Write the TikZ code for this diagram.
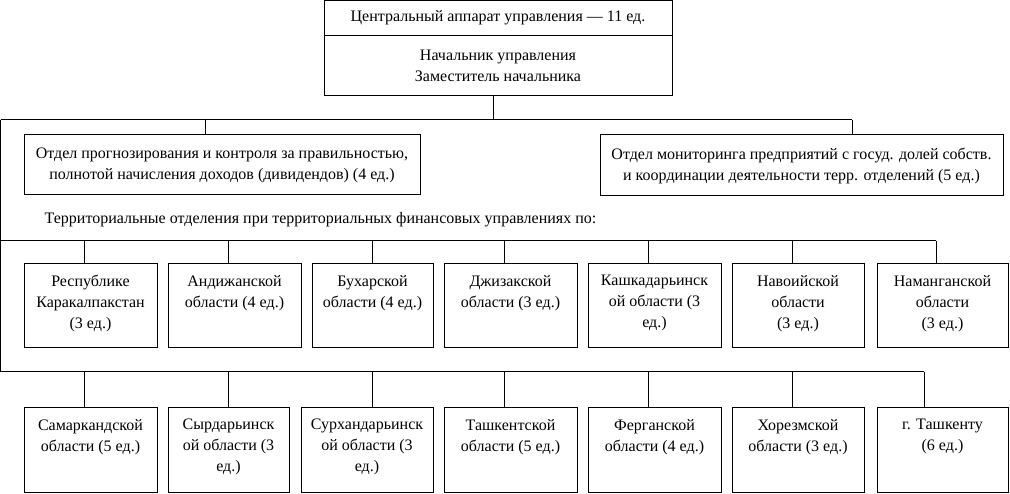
\documentclass[tikz,border=0pt]{standalone}
\usepackage{fontspec}
\setmainfont{Liberation Serif}
\usetikzlibrary{positioning}
\tikzset{
  box/.style={draw, line width=1pt, inner sep=0pt, outer sep=0pt},
  txt/.style={align=center, inner sep=0pt, font=\fontsize{16}{21}\selectfont},
  link/.style={line width=1pt},
}
\begin{document}
\begin{tikzpicture}[x=1pt,y=-1pt]
    \useasboundingbox (0,0) rectangle (1010,494);
    % central office
    \node[box, txt, minimum width=348, minimum height=35.5] (head) at (498,18.25) {Центральный аппарат управления — 11 ед.};
    \node[box, txt, minimum width=348, minimum height=60, below=0pt of head] (chief) {Начальник управления\\Заместитель начальника};
    % departments
    \node[box, txt, minimum width=396, minimum height=60] (plan) at (222,165) {Отдел прогнозирования и контроля за правильностью,\\полнотой начисления доходов (дивидендов) (4 ед.)};
    \node[box, txt, minimum width=403, minimum height=61] (monit) at (801.5,165.5) {Отдел мониторинга предприятий с госуд. долей собств.\\и координации деятельности терр. отделений (5 ед.)};
    \node[txt] (terr) at (320.5,220) {Территориальные отделения при территориальных финансовых управлениях по:};
    \coordinate (bus0) at (0.7,120);
    \coordinate (bus1) at (0.7,241);
    \coordinate (bus2) at (0.7,372);
    % first row
    \node[box, minimum width=133, minimum height=84] (r1) at (90.5,306) {};
    \node[box, minimum width=133, minimum height=84] (r2) at (234.5,306) {};
    \node[box, minimum width=121, minimum height=84] (r3) at (372.5,306) {};
    \node[box, minimum width=133, minimum height=84] (r4) at (510.5,306) {};
    \node[box, minimum width=133, minimum height=84] (r5) at (654.5,306) {};
    \node[box, minimum width=132, minimum height=84] (r6) at (798,306) {};
    \node[box, minimum width=131, minimum height=84] (r7) at (942.5,306) {};
    \node[txt, below=11pt of r1.north] (r1t) {Республике\\Каракалпакстан\\(3 ед.)};
    \node[txt, below=11pt of r2.north] (r2t) {Андижанской\\области (4 ед.)};
    \node[txt, below=11pt of r3.north] (r3t) {Бухарской\\области (4 ед.)};
    \node[txt, below=11pt of r4.north] (r4t) {Джизакской\\области (3 ед.)};
    \node[txt, below=11pt of r5.north] (r5t) {Кашкадарьинск\\ой области (3\\ед.)};
    \node[txt, below=11pt of r6.north] (r6t) {Навоийской\\области\\(3 ед.)};
    \node[txt, below=11pt of r7.north] (r7t) {Наманганской\\области\\(3 ед.)};
    % second row
    \node[box, minimum width=133, minimum height=84] (s1) at (90.5,450) {};
    \node[box, minimum width=121, minimum height=84] (s2) at (228.5,450) {};
    \node[box, minimum width=132, minimum height=84] (s3) at (367,450) {};
    \node[box, minimum width=133, minimum height=84] (s4) at (510.5,450) {};
    \node[box, minimum width=133, minimum height=84] (s5) at (654.5,450) {};
    \node[box, minimum width=132, minimum height=84] (s6) at (798,450) {};
    \node[box, minimum width=131, minimum height=84] (s7) at (942.5,450) {};
    \node[txt, below=11pt of s1.north] (s1t) {Самаркандской\\области (5 ед.)};
    \node[txt, below=11pt of s2.north] (s2t) {Сырдарьинск\\ой области (3\\ед.)};
    \node[txt, below=11pt of s3.north] (s3t) {Сурхандарьинск\\ой области (3\\ед.)};
    \node[txt, below=11pt of s4.north] (s4t) {Ташкентской\\области (5 ед.)};
    \node[txt, below=11pt of s5.north] (s5t) {Ферганской\\области (4 ед.)};
    \node[txt, below=11pt of s6.north] (s6t) {Хорезмской\\области (3 ед.)};
    \node[txt, below=11pt of s7.north] (s7t) {г. Ташкенту\\(6 ед.)};
    % connectors
    \draw[link] ([xshift=-5]chief.south) -- ([xshift=-5]chief.south |- bus0);
    \draw[link] (bus0) -- ([xshift=50.5]monit.north |- bus0);
    \draw[link] ([xshift=-17]plan.north) -- ([xshift=-17]plan.north |- bus0);
    \draw[link] ([xshift=50.5]monit.north) -- ([xshift=50.5]monit.north |- bus0);
    \draw[link] (bus0) -- (bus2);
    \draw[link] (bus1) -- ([xshift=-6.5]r7.north |- bus1);
    \draw[link] (bus2) -- ([xshift=-18.5]s7.north |- bus2);
    \foreach \b/\d in {r1/-6.5, r2/-6.5, r3/-0.5, r4/-6.5, r5/-6.5, r6/-6, r7/-6.5}
      \draw[link] ([xshift=\d]\b.north) -- ([xshift=\d]\b.north |- bus1);
    \foreach \b/\d in {s1/-6.5, s2/-0.5, s3/5, s4/-6.5, s5/-6.5, s6/-6, s7/-18.5}
      \draw[link] ([xshift=\d]\b.north) -- ([xshift=\d]\b.north |- bus2);
\end{tikzpicture}
\end{document}
